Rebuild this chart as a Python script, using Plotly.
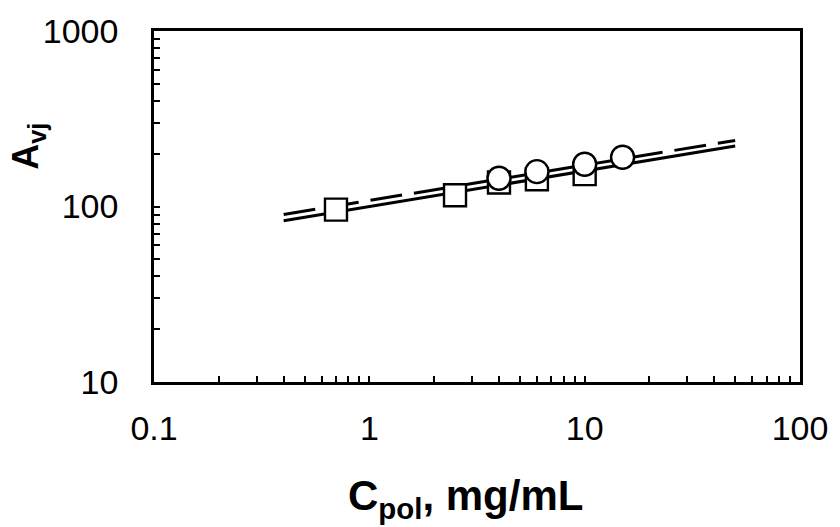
import plotly.graph_objects as go

# Data
sq_x = [0.7, 2.5, 4, 6, 10]
sq_y = [96, 116, 137, 143, 153]
ci_x = [4, 6, 10, 15]
ci_y = [145, 158, 174, 191]
fit_x = [0.4, 50]
solid_y = [83, 221]
dashed_y = [90, 238]

x_ticks = [0.1, 1, 10, 100]
x_ticktext = ["0.1", "1", "10", "100"]
y_ticks = [10, 100, 1000]
y_ticktext = ["10", "100", "1000"]

FONT = "Liberation Sans, Arial, sans-serif"

fig = go.Figure()
fig.add_trace(go.Scatter(x=fit_x, y=dashed_y, mode="lines",
                         line=dict(color="black", width=3, dash="32px,12px"),
                         showlegend=False))
fig.add_trace(go.Scatter(x=fit_x, y=solid_y, mode="lines",
                         line=dict(color="black", width=3),
                         showlegend=False))
fig.add_trace(go.Scatter(x=sq_x, y=sq_y, mode="markers",
                         marker=dict(symbol="square", size=22, color="white",
                                     line=dict(color="black", width=2.4)),
                         showlegend=False))
fig.add_trace(go.Scatter(x=ci_x, y=ci_y, mode="markers",
                         marker=dict(symbol="circle", size=23, color="white",
                                     line=dict(color="black", width=2.4)),
                         showlegend=False))

minor_x = [m * 10 ** e for e in (-1, 0, 1) for m in range(2, 10)]
minor_y = [m * 10 ** e for e in (1, 2) for m in range(2, 10)]

fig.update_xaxes(type="log", range=[-1, 2], tickmode="array",
                 tickvals=x_ticks, ticktext=x_ticktext,
                 ticks="inside", ticklen=6, tickwidth=1.5, tickcolor="black",
                 minor=dict(tickmode="array", tickvals=minor_x, ticks="inside",
                            ticklen=6, tickwidth=1.5, tickcolor="black", showgrid=False),
                 showline=True, linecolor="black", linewidth=2.5, mirror=True,
                 showgrid=False, zeroline=False,
                 tickfont=dict(family=FONT, size=34, color="black"),
                 ticklabelstandoff=14)
fig.update_yaxes(type="log", range=[1, 3], tickmode="array",
                 tickvals=y_ticks, ticktext=y_ticktext,
                 ticks="inside", ticklen=6, tickwidth=1.5, tickcolor="black",
                 minor=dict(tickmode="array", tickvals=minor_y, ticks="inside",
                            ticklen=6, tickwidth=1.5, tickcolor="black", showgrid=False),
                 showline=True, linecolor="black", linewidth=2.5, mirror=True,
                 showgrid=False, zeroline=False,
                 tickfont=dict(family=FONT, size=34, color="black"),
                 ticklabelstandoff=26)

fig.add_annotation(text="<b>C<sub>pol</sub>, mg/mL</b>", xref="paper", yref="paper",
                   x=0.482, y=-0.333, xanchor="center", yanchor="middle",
                   showarrow=False, font=dict(family=FONT, size=42, color="black"))
fig.add_annotation(text="<b>A<sub>vj</sub></b>", xref="paper", yref="paper",
                   x=-0.195, y=0.67, xanchor="center", yanchor="middle", textangle=-90,
                   showarrow=False, font=dict(family=FONT, size=36, color="black"))

fig.update_layout(width=840, height=527,
                  margin=dict(l=154, r=34, t=29, b=145),
                  plot_bgcolor="white", paper_bgcolor="white",
                  font=dict(family=FONT, color="black"))

fig.write_html("out.html")
